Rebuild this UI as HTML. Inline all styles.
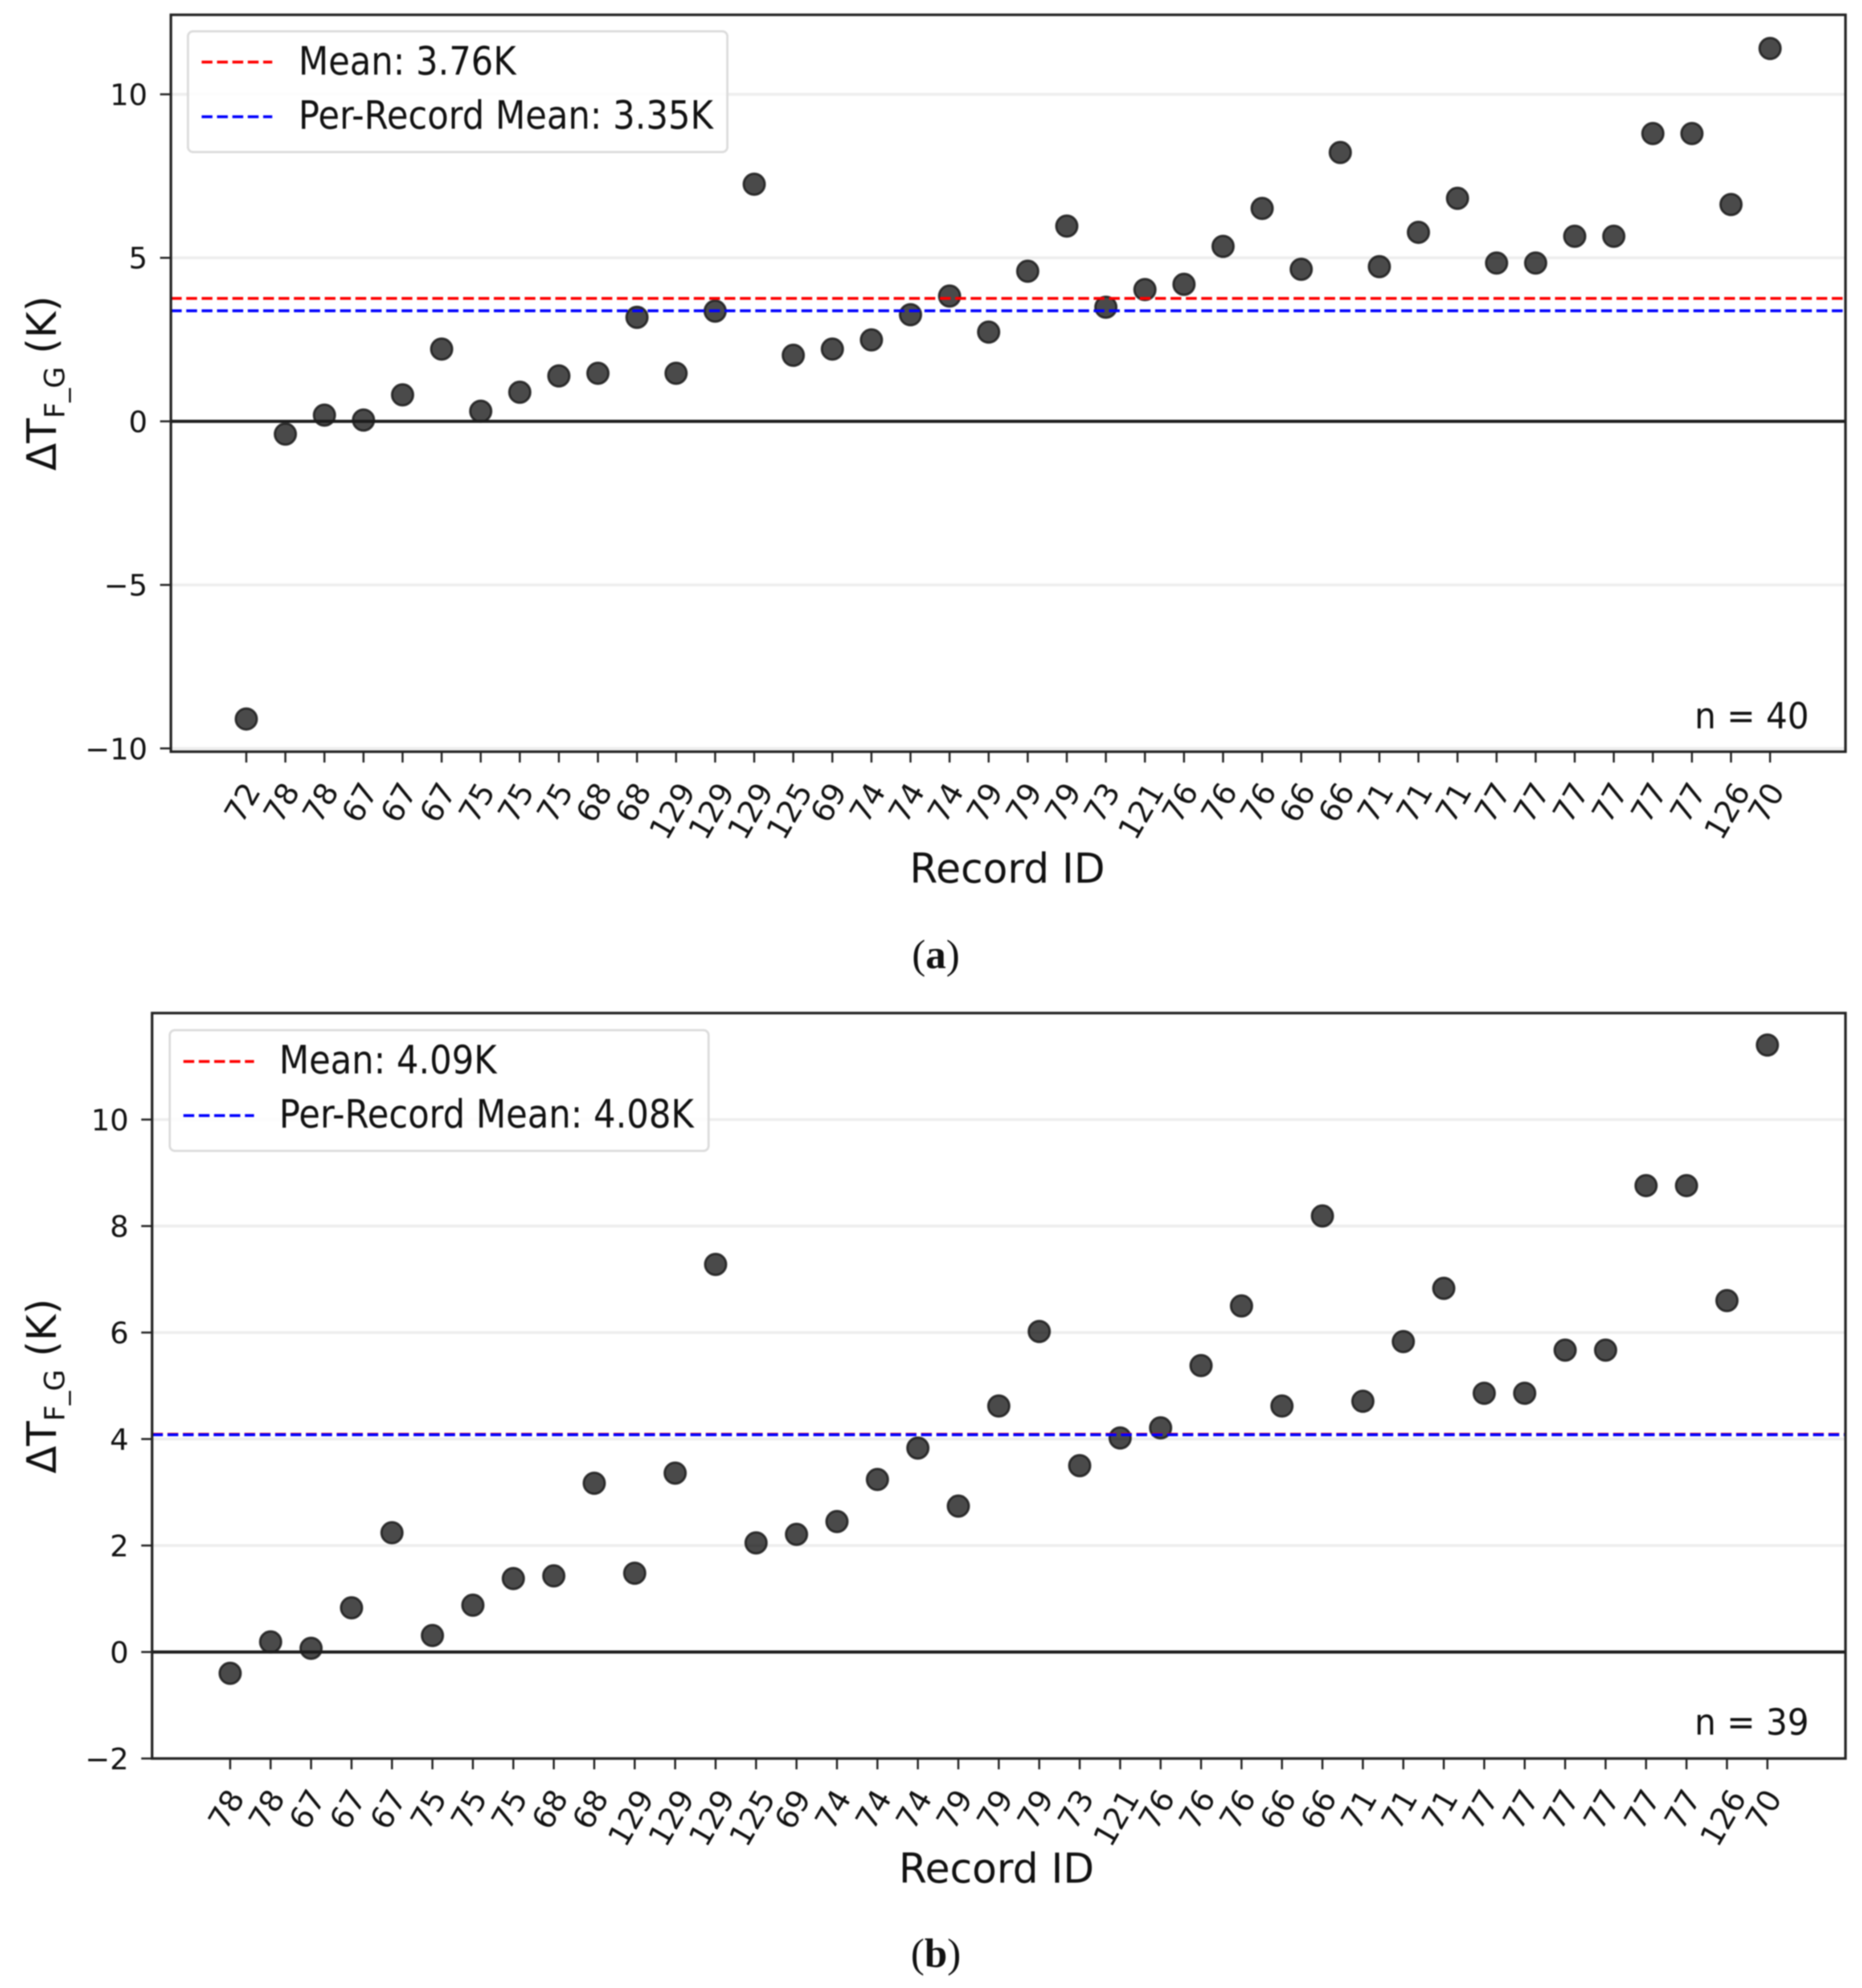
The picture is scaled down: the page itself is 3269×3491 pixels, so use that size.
<!DOCTYPE html>
<html lang="en">
<head>
<meta charset="utf-8">
<title>Record ID temperature difference charts</title>
<style>
html,body{margin:0;padding:0;background:#fff;}
svg{display:block;filter:blur(1px);}
text{font-family:"DejaVu Sans","Liberation Sans",sans-serif;fill:#111;}
.serif{font-family:"Liberation Serif",serif;}
</style>
</head>
<body>
<svg id="figure" xmlns="http://www.w3.org/2000/svg" width="3269" height="3491" viewBox="0 0 3269 3491">
  <rect x="0" y="0" width="3269" height="3491" fill="#fff"/>

  <g id="panel-a">
    <g id="plot-a"></g>
    <rect x="330" y="55" width="947" height="212" rx="9" fill="#fff" fill-opacity="0.85" stroke="#dcdcdc" stroke-width="4"/>
    <line x1="354" x2="478" y1="109" y2="109" stroke="#ff0000" stroke-width="5" stroke-dasharray="19 8"/>
    <text x="524" y="131" font-size="69" textLength="382" lengthAdjust="spacingAndGlyphs">Mean: 3.76K</text>
    <line x1="354" x2="478" y1="205" y2="205" stroke="#0000ff" stroke-width="5" stroke-dasharray="19 8"/>
    <text x="524" y="226" font-size="69" textLength="728" lengthAdjust="spacingAndGlyphs">Per-Record Mean: 3.35K</text>
    <text x="2975" y="1279" font-size="63" textLength="201" lengthAdjust="spacingAndGlyphs">n = 40</text>
    <text x="1597" y="1550" font-size="72" textLength="343" lengthAdjust="spacingAndGlyphs">Record ID</text>
    <text transform="translate(98 673) rotate(-90)" font-size="71" text-anchor="middle">ΔT<tspan font-size="49" dy="15">F_G</tspan><tspan dy="-15"> (K)</tspan></text>
    <text class="serif" x="1643" y="1700" font-size="72" text-anchor="middle">(<tspan class="serif" font-weight="bold">a</tspan>)</text>
  </g>

  <g id="panel-b">
    <g id="plot-b"></g>
    <rect x="298" y="1809" width="946" height="212" rx="9" fill="#fff" fill-opacity="0.85" stroke="#dcdcdc" stroke-width="4"/>
    <line x1="322" x2="446" y1="1864" y2="1864" stroke="#ff0000" stroke-width="5" stroke-dasharray="19 8"/>
    <text x="490" y="1885" font-size="69" textLength="382" lengthAdjust="spacingAndGlyphs">Mean: 4.09K</text>
    <line x1="322" x2="446" y1="1959" y2="1959" stroke="#0000ff" stroke-width="5" stroke-dasharray="19 8"/>
    <text x="490" y="1980" font-size="69" textLength="728" lengthAdjust="spacingAndGlyphs">Per-Record Mean: 4.08K</text>
    <text x="2975" y="3046" font-size="63" textLength="201" lengthAdjust="spacingAndGlyphs">n = 39</text>
    <text x="1578" y="3306" font-size="72" textLength="343" lengthAdjust="spacingAndGlyphs">Record ID</text>
    <text transform="translate(98 2434) rotate(-90)" font-size="71" text-anchor="middle">ΔT<tspan font-size="49" dy="15">F_G</tspan><tspan dy="-15"> (K)</tspan></text>
    <text class="serif" x="1643" y="3454" font-size="72" text-anchor="middle">(<tspan class="serif" font-weight="bold">b</tspan>)</text>
  </g>
</svg>

<script>
const categoriesA = ["72","78","78","67","67","67","75","75","75","68","68","129","129","129","125","69","74","74","74","79","79","79","73","121","76","76","76","66","66","71","71","71","77","77","77","77","77","77","126","70"];
const valuesA = [-9.1,-0.39,0.19,0.04,0.81,2.21,0.31,0.89,1.39,1.47,3.18,1.47,3.37,7.25,2.02,2.21,2.49,3.26,3.83,2.73,4.59,5.97,3.49,4.03,4.19,5.35,6.51,4.65,8.22,4.73,5.78,6.82,4.84,4.84,5.66,5.66,8.8,8.8,6.63,11.4];
const yTicksA = [-10,-5,0,5,10];
const meansA = [3.76,3.38];

const categoriesB = ["78","78","67","67","67","75","75","75","68","68","129","129","129","125","69","74","74","74","79","79","79","73","121","76","76","76","66","66","71","71","71","77","77","77","77","77","77","126","70"];
const valuesB = [-0.4,0.19,0.07,0.83,2.24,0.31,0.88,1.38,1.43,3.17,1.48,3.36,7.28,2.05,2.21,2.45,3.24,3.83,2.74,4.62,6.02,3.5,4.02,4.21,5.38,6.5,4.62,8.19,4.71,5.83,6.83,4.86,4.86,5.67,5.67,8.76,8.76,6.6,11.4];
const yTicksB = [-2,0,2,4,6,8,10];
const meansB = [4.09,4.08];

const meanColors = ["#ff0000", "#0000ff"];
const meanNames = ["mean-line", "per-record-mean-line"];
const SVG_NS = "http://www.w3.org/2000/svg";

function svgEl(tag, parent) {
  const el = document.createElementNS(SVG_NS, tag);
  parent.appendChild(el);
  return el;
}

function setLine(el, x1, y1, x2, y2, color, width) {
  el.setAttribute("x1", x1);
  el.setAttribute("y1", y1);
  el.setAttribute("x2", x2);
  el.setAttribute("y2", y2);
  el.setAttribute("stroke", color);
  el.setAttribute("stroke-width", width);
}

function drawPlot(root, box, yDomain, categories, values, yTicks, means) {
  const xMargin = 1.93;
  const count = categories.length;
  const xScale = i => box.left + (i + xMargin) / (count - 1 + 2 * xMargin) * (box.right - box.left);
  const yScale = v => box.bottom - (v - yDomain[0]) / (yDomain[1] - yDomain[0]) * (box.bottom - box.top);

  const plotBg = svgEl("rect", root);
  
  
  plotBg.setAttribute("x", box.left);
  plotBg.setAttribute("y", box.top);
  plotBg.setAttribute("width", box.right - box.left);
  plotBg.setAttribute("height", box.bottom - box.top);
  plotBg.setAttribute("fill", "#fff");

  yTicks.forEach(t => {
    const grid = svgEl("line", root);
    
    
    setLine(grid, box.left, yScale(t), box.right, yScale(t), "#eeeeee", 5);

    const tick = svgEl("line", root);
    
    
    setLine(tick, box.left - 19, yScale(t), box.left, yScale(t), "#222", 3.5);

    const label = svgEl("text", root);
    
    
    label.setAttribute("x", box.left - 41);
    label.setAttribute("y", yScale(t) + 19);
    label.setAttribute("font-size", "52");
    label.setAttribute("text-anchor", "end");
    label.textContent = String(t).replace("-", "\u2212");
  });

  values.forEach((v, i) => {
    const dot = svgEl("circle", root);
    
    
    dot.setAttribute("cx", xScale(i));
    dot.setAttribute("cy", yScale(v));
    dot.setAttribute("r", "18.5");
    dot.setAttribute("fill", "#000");
    dot.setAttribute("fill-opacity", "0.71");
    dot.setAttribute("stroke", "#1a1a1a");
    dot.setAttribute("stroke-opacity", "0.85");
    dot.setAttribute("stroke-width", "4");
  });

  means.forEach((m, i) => {
    const mean = svgEl("line", root);
    
    
    setLine(mean, box.left, yScale(m), box.right, yScale(m), meanColors[i], 5);
    mean.setAttribute("stroke-dasharray", "19 8");
  });

  const zero = svgEl("line", root);
  
  
  setLine(zero, box.left, yScale(0), box.right, yScale(0), "#1c1c1c", 5.5);

  const fontSize = 54;
  categories.forEach((c, i) => {
    const tick = svgEl("line", root);
    
    
    setLine(tick, xScale(i), box.bottom, xScale(i), box.bottom + 19, "#222", 3.5);

    const textWidth = c.length * 0.636 * fontSize;
    const halfHeight = (textWidth * Math.sin(Math.PI / 3) + 38 * Math.cos(Math.PI / 3)) / 2;
    const cx = xScale(i) - 7;
    const cy = box.bottom + 50 + halfHeight;
    const label = svgEl("text", root);
    
    
    label.setAttribute("transform", "translate(" + cx + " " + cy + ") rotate(-60)");
    label.setAttribute("y", "19");
    label.setAttribute("font-size", fontSize);
    label.setAttribute("text-anchor", "middle");
    label.textContent = c;
  });

  const frame = svgEl("rect", root);
  
  
  frame.setAttribute("x", box.left);
  frame.setAttribute("y", box.top);
  frame.setAttribute("width", box.right - box.left);
  frame.setAttribute("height", box.bottom - box.top);
  frame.setAttribute("fill", "none");
  frame.setAttribute("stroke", "#222");
  frame.setAttribute("stroke-width", "4.5");
}

drawPlot(document.getElementById("plot-a"),
  {left: 300, right: 3240, top: 26, bottom: 1320},
  [-10.1, 12.43], categoriesA, valuesA, yTicksA, meansA);

drawPlot(document.getElementById("plot-b"),
  {left: 267, right: 3240, top: 1779, bottom: 3088},
  [-2.0, 12.0], categoriesB, valuesB, yTicksB, meansB);
</script>
</body>
</html>
